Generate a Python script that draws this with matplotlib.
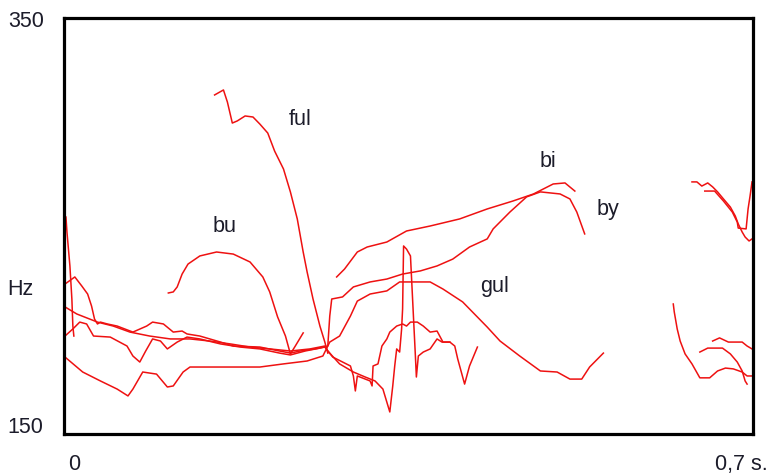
import matplotlib
matplotlib.use('Agg')
import matplotlib.pyplot as plt

# pitch contours, time in ms, F0 in Hz
bu_t = [106, 111, 115, 120, 126, 138, 155, 172, 189, 202, 209, 217, 225, 230, 235, 243]
bu_hz = [217.8, 218.3, 220.7, 226.9, 231.7, 235.6, 237.5, 236.5, 232.7, 225.5, 218.3, 206.3, 197.1, 188.5, 192.3, 198.6]

ful_t = [153, 162, 166, 171, 176, 184, 192, 199, 207, 214, 223, 230, 237, 243, 247, 253, 260, 265, 268]
ful_hz = [313, 315.4, 309.6, 299.5, 300.5, 302.9, 302.4, 299, 294.7, 286, 277.4, 266.4, 253.4, 237.5, 227.9, 214.9, 201.9, 194.2, 188.9]

bi_t = [277, 285, 298, 308, 328, 348, 372, 402, 430, 456, 477, 497, 509, 519]
bi_hz = [225.5, 229.3, 237.5, 239.9, 242.3, 247.6, 250, 253.4, 258.2, 262, 265.4, 270.2, 270.7, 266.8]

by_t = [1, 9, 16, 23, 30, 47, 64, 70, 77, 83, 90, 98, 105, 115, 125, 138, 159, 179, 199, 219, 230, 245, 260, 268,
        270, 272, 283, 294, 311, 328, 344, 362, 379, 395, 412, 430, 436, 453, 470, 484, 504, 514, 521, 529]
by_hz = [197.1, 200.5, 203.8, 202.9, 197.1, 196.6, 192.3, 187.5, 184.6, 189.9, 195.7, 194.7, 190.9, 194.2, 196.6,
         195.7, 193.3, 191.8, 190.9, 188.9, 188, 189.9, 191.3, 192.3,
         206.7, 214.9, 215.9, 220.7, 223.1, 224.5, 226.9, 228.4, 230.8, 234.1, 239.9, 243.8, 248.6, 256.7, 264,
         266.4, 265.4, 263, 256.7, 246.2]

gul_t = [1, 19, 37, 54, 65, 70, 80, 94, 105, 111, 121, 128, 172, 199, 223, 247, 263, 270, 280, 291, 298, 311,
         328, 341, 372, 385, 405, 430, 443, 463, 484, 501, 514, 526, 534, 548]
gul_hz = [187, 179.8, 175.5, 171.6, 168.3, 171.6, 179.8, 178.8, 172.6, 173.1, 179.8, 182.2, 182.2, 182.2, 183.7,
          185.1, 187.5, 194.2, 197.1, 206.7, 213.9, 217.3, 218.8, 223.1, 223.1, 219.7, 213.5, 201.4, 194.7,
          187.5, 180.3, 179.8, 176.4, 176.4, 182.2, 188.9]

spike_t = [2, 3, 6, 8, 9, 10]
spike_hz = [254.3, 247.1, 230.8, 214.9, 201.9, 197.1]

l1_t = [1, 11, 18, 24, 28, 31, 34, 37, 44, 54, 70, 84, 90, 101, 111, 120, 125, 138, 159, 172, 199, 219, 230, 240,
        255, 265, 273, 291, 294, 296, 298, 311, 313, 314, 319, 323, 328, 331, 338, 344, 348, 352, 359, 365, 372,
        379, 385, 392, 397, 400, 407, 412, 420]
l1_hz = [222.1, 225.5, 221.2, 217.3, 211.5, 205.3, 202.9, 203.8, 202.9, 201.9, 199, 201.9, 203.8, 202.9, 199,
         199.5, 198.1, 197.1, 194.2, 192.3, 191.8, 189.9, 188.9, 189.9, 190.9, 191.8, 187, 182.7, 177.9, 170.7,
         177.9, 175.5, 173.1, 182.7, 183.7, 192.3, 195.7, 199, 201.9, 202.9, 201.9, 203.8, 203.8, 201.9, 199,
         199.5, 194.2, 194.2, 192.3, 186.1, 174, 182.7, 191.8]

l2_t = [1, 13, 34, 50, 67, 87, 108, 128, 148, 169, 189, 209, 230, 250, 265, 268, 280, 294, 306, 316, 324, 331,
        334, 336, 338, 341, 343, 344, 345, 348, 352, 355, 357, 358, 360, 365, 372, 379, 384, 392]
l2_hz = [211.1, 207.7, 203.8, 201.9, 199, 197.1, 195.7, 195.7, 194.7, 193.3, 191.8, 190.9, 189.9, 190.9, 192.3,
         189.9, 183.7, 179.8, 177.4, 175.5, 171.6, 160.6, 173.1, 182.7, 190.9, 189.4, 200.5, 210.1, 240.4,
         238.9, 235.6, 206.7, 187.5, 177.4, 187.5, 189.4, 190.9, 195.7, 194.2, 194.2]

r1_t = [638, 643, 648, 654, 659, 664, 670, 677, 682, 685, 689, 692, 696, 699]
r1_hz = [271.2, 271.2, 269.2, 270.7, 268.8, 266.4, 263, 259.1, 254.8, 251, 247.1, 244.7, 242.8, 243.8]

r2_t = [651, 661, 670, 679, 684, 685, 693, 695, 697, 699]
r2_hz = [266.8, 266.8, 262, 256.7, 251.9, 249, 248.6, 258.2, 264.4, 271.2]

r3_t = [619, 620, 623, 626, 631, 638, 646, 656, 664, 672, 680, 689, 694, 699]
r3_hz = [212.5, 208.7, 200.5, 194.7, 188.5, 183.7, 177, 177, 180.3, 181.7, 181.3, 179.8, 177.9, 177.9]

r4_t = [646, 654, 669, 677, 684, 689, 692, 694]
r4_hz = [189.4, 191.3, 191.3, 188.5, 184.6, 180.3, 175.5, 174]

r5_t = [659, 666, 675, 689, 694, 699]
r5_hz = [194.7, 196.2, 194.2, 194.2, 192.3, 190.9]

contours = [(bu_t, bu_hz), (ful_t, ful_hz), (bi_t, bi_hz), (by_t, by_hz), (gul_t, gul_hz),
            (spike_t, spike_hz), (l1_t, l1_hz), (l2_t, l2_hz),
            (r1_t, r1_hz), (r2_t, r2_hz), (r3_t, r3_hz), (r4_t, r4_hz), (r5_t, r5_hz)]

W, H = 773, 477
fig = plt.figure(figsize=(W / 100, H / 100), dpi=100)
ax = fig.add_axes([64 / W, 1 - 435 / H, 689 / W, 416 / H])

for t, hz in contours:
    ax.plot([v / 1000 for v in t], hz, color='#ee1111', lw=1.1)

ax.set_xlim(0, 0.7)
ax.set_ylim(150, 350)
ax.set_xticks([])
ax.set_yticks([])
for s in ax.spines.values():
    s.set_linewidth(2.3)
    s.set_color('black')

plt.rcParams['font.family'] = ['Liberation Sans', 'DejaVu Sans']
tc = '#1c1c2a'
fs = 15.5


def label(px, py, s, ha='left'):
    fig.text(px / W, 1 - py / H, s, ha=ha, va='baseline', fontsize=fs, color=tc,
             family=['Liberation Sans', 'DejaVu Sans'])


label(8, 27, '350')
label(7, 433, '150')
label(7, 295, 'Hz')
label(74, 470, '0', ha='center')
label(715, 470, '0,7 s.')
label(213, 232, 'bu')
label(289, 125, 'ful')
label(540, 167, 'bi')
label(597, 215, 'by')
label(480, 292, 'gul')

fig.savefig('out.png', dpi=100)
